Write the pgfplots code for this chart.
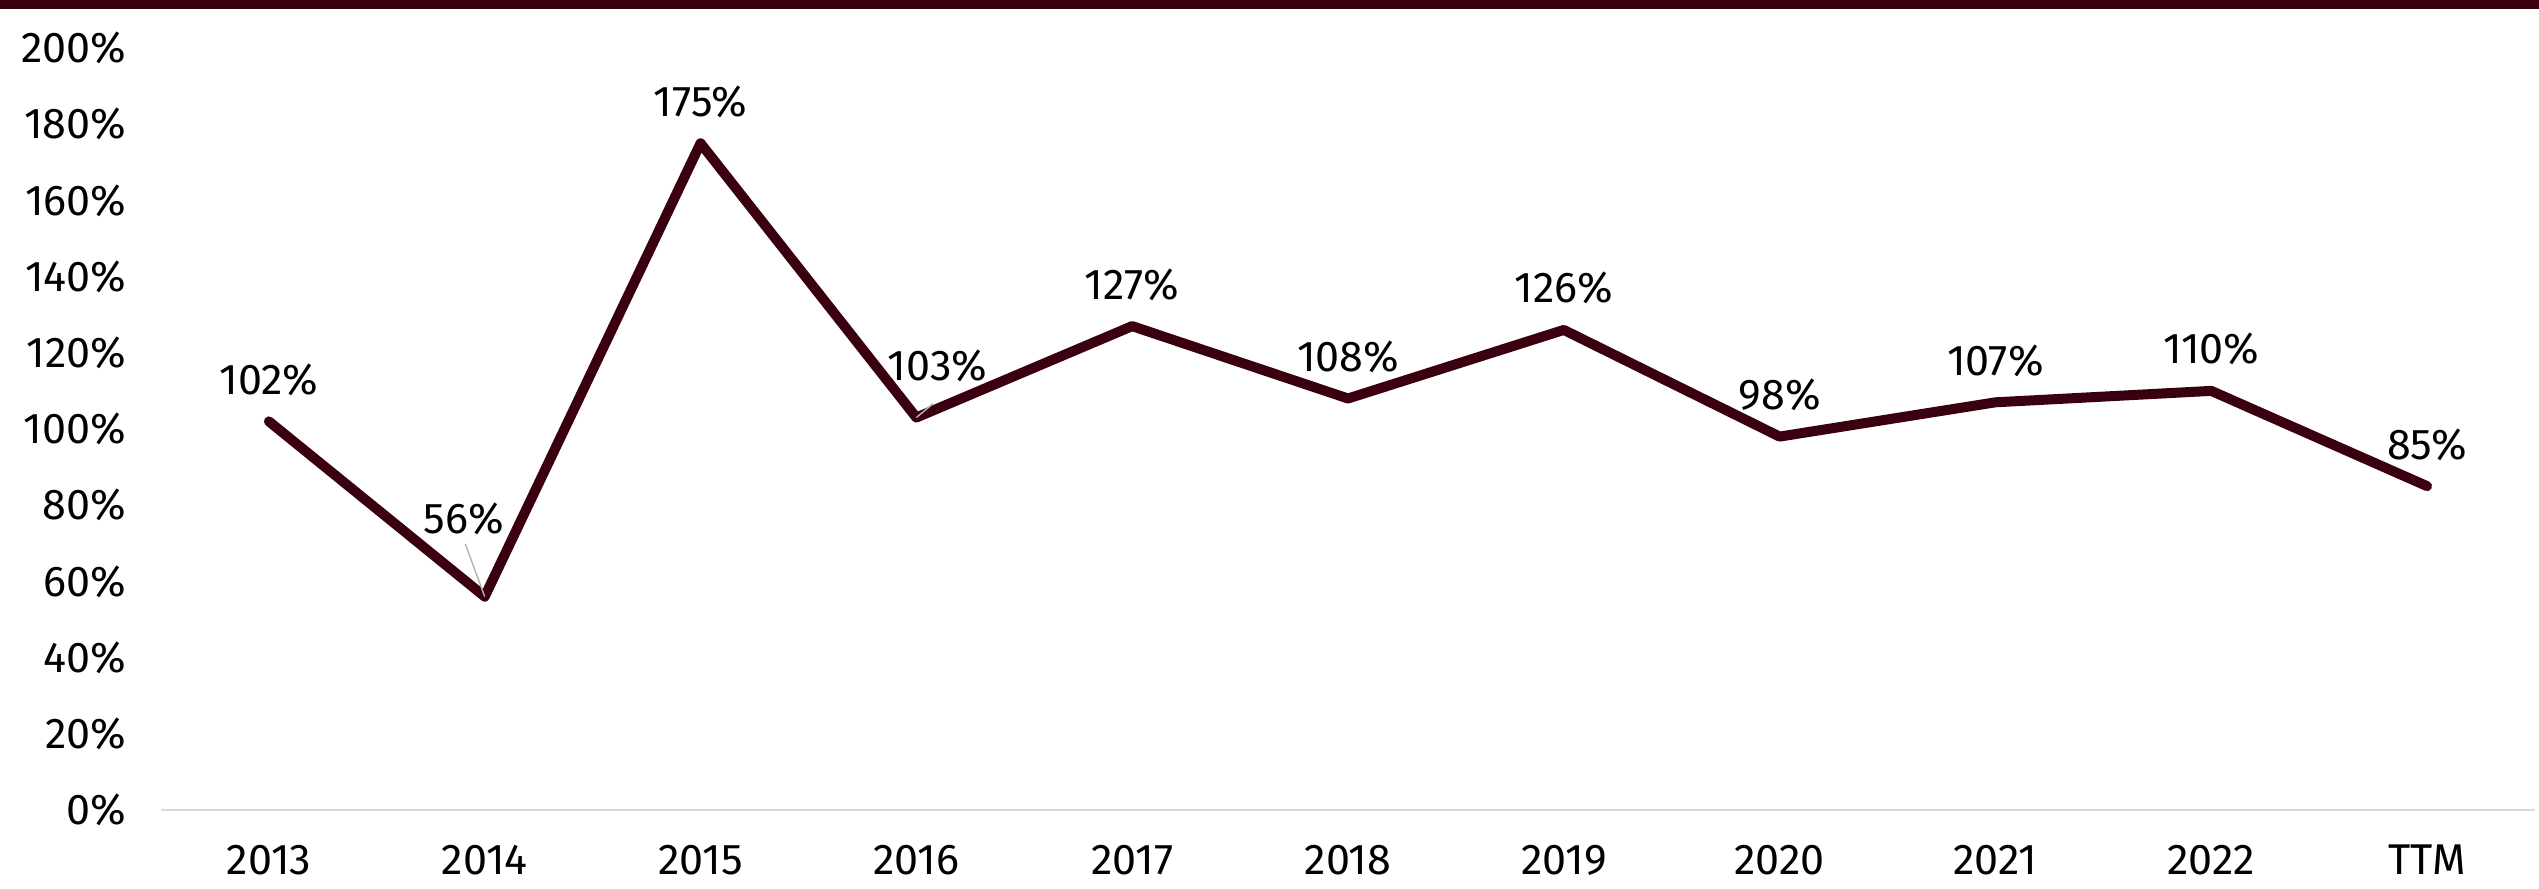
\documentclass[border=0pt]{standalone}
\usepackage{pgfplots}
\pgfplotsset{compat=1.18}
\usepackage{fontspec}
\setmainfont{Fira Sans}
\definecolor{maroon}{HTML}{3A0010}
\definecolor{axgray}{HTML}{D9D9D9}
\begin{document}
\begin{tikzpicture}
\pgfmathsetmacro{\u}{0.36}
\useasboundingbox (0,0) rectangle (914.04pt,320.04pt);
\fill[maroon] (0,316.8pt) rectangle (914.04pt,320.04pt);
\begin{axis}[
  at={(57.96pt,28.44pt)}, anchor=south west,
  scale only axis, width=854.64pt, height=274.32pt,
  xmin=-0.5, xmax=10.5, ymin=0, ymax=200,
  xtick={0,...,10},
  xticklabels={2013,2014,2015,2016,2017,2018,2019,2020,2021,2022,TTM},
  ytick={0,20,...,200},
  /pgf/number format/assume math mode=true,
  yticklabel={\pgfmathprintnumber{\tick}\%},
  font=\fontsize{15.5}{18}\selectfont,
  ticklabel style={font=\fontsize{15.5}{18}\selectfont},
  xticklabel style={yshift=-9pt},
  yticklabel style={xshift=-9pt},
  axis x line*=bottom, axis y line*=left,
  y axis line style={draw=none},
  x axis line style={draw=axgray, line width=0.8pt},
  tick style={draw=none},
  clip=false,
]
\addplot[maroon, line width=3.6pt, line join=round, line cap=round] coordinates {
(0,102) (1,56) (2,175) (3,103) (4,127) (5,108) (6,126) (7,98) (8,107) (9,110) (10,85)};
\addplot[draw=none, mark=none, nodes near coords={\pgfmathprintnumber{\pgfplotspointmeta}\%},
  nodes near coords style={anchor=center, yshift=15pt, text=black, font=\fontsize{15.5}{18}\selectfont}]
  coordinates {(0,102) (2,175) (4,127) (5,108) (6,126) (7,98) (8,107) (9,110) (10,85)};
\draw[gray!60, line width=0.5pt] (axis cs:1,56) -- ++(-7pt,19pt);
\node[font=\fontsize{15.5}{18}\selectfont] at ([shift={(-7.6pt,28pt)}]axis cs:1,56) {56\%};
\draw[gray!60, line width=0.5pt] (axis cs:3,103) -- ++(6pt,5pt);
\node[font=\fontsize{15.5}{18}\selectfont] at ([shift={(7.6pt,18.7pt)}]axis cs:3,103) {103\%};
\end{axis}
\end{tikzpicture}
\end{document}
